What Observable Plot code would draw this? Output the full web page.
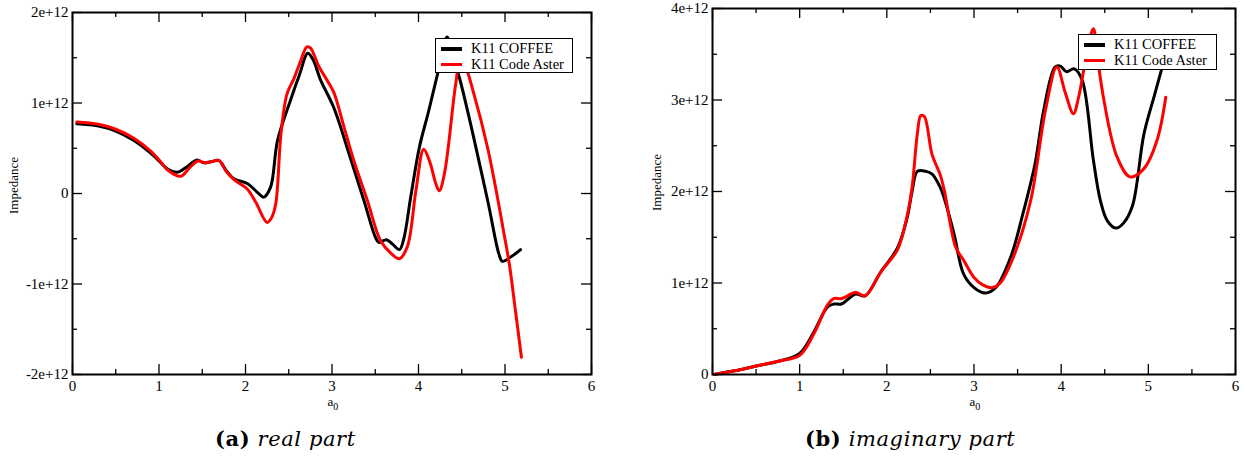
<!DOCTYPE html>
<html>
<head>
<meta charset="utf-8">
<script src="https://cdn.jsdelivr.net/npm/d3@7"></script>
<script src="https://cdn.jsdelivr.net/npm/@observablehq/plot@0.6"></script>
<style>
  body { margin: 0; background: #fff; }
  #root { position: relative; width: 1245px; height: 458px; background: #fff; overflow: hidden; font-family: "Liberation Serif", serif; }
  #root > svg, #root > div { position: absolute; }
  .legend { background: #fff; border: 1px solid #000; font-size: 14.5px; line-height: 15.5px; padding: 2px 4px 2px 5px; box-sizing: border-box; }
  .legend .row { display: flex; align-items: center; white-space: nowrap; }
  .legend .sw { display: inline-block; width: 21px; height: 3.5px; margin-right: 9px; }
  .ylab { font-size: 13px; transform: rotate(-90deg); transform-origin: center; white-space: nowrap; line-height: 13px; }
  .xlab { font-size: 13px; line-height: 13px; }
  .xlab sub { font-size: 10px; vertical-align: -4px; }
  .cap { font-family: "DejaVu Serif", serif; font-size: 21px; letter-spacing: 0.6px; white-space: nowrap; }
  .cap b { font-weight: bold; }
  .cap i { font-style: italic; }
</style>
</head>
<body>
<div id="root"></div>
<script>
// ---------- data ----------
const seriesNames = ["K11 COFFEE", "K11 Code Aster"];
const seriesColors = ["black", "red"];

const xTicks = [0, 1, 2, 3, 4, 5, 6];
const xMinor = [0.5, 1.5, 2.5, 3.5, 4.5, 5.5];

const yTicksReal = [-2e12, -1e12, 0, 1e12, 2e12];
const yLabelsReal = ["-2e+12", "-1e+12", "0", "1e+12", "2e+12"];
const yMinorReal = [-1.5e12, -0.5e12, 0.5e12, 1.5e12];

const yTicksImag = [0, 1e12, 2e12, 3e12, 4e12];
const yLabelsImag = ["0", "1e+12", "2e+12", "3e+12", "4e+12"];
const yMinorImag = [0.5e12, 1.5e12, 2.5e12, 3.5e12];

// real part, K11 COFFEE (values in units of 1e12)
const coffeeRealA0 = [0.05,0.3,0.5,0.71,0.9,1.02,1.1,1.21,1.3,1.44,1.51,1.6,1.69,1.78,1.87,2.02,2.14,2.21,2.29,2.37,2.52,2.62,2.72,2.78,2.87,3.02,3.21,3.37,3.5,3.54,3.63,3.7,3.78,3.83,3.91,4.01,4.12,4.22,4.33,4.38,4.47,4.8,4.93,4.97,5.07,5.18];
const coffeeRealZ  = [0.77,0.745,0.69,0.585,0.45,0.34,0.27,0.235,0.28,0.37,0.34,0.35,0.365,0.25,0.16,0.11,0.01,-0.04,0.07,0.585,1.03,1.3,1.55,1.48,1.25,0.95,0.4,-0.08,-0.48,-0.54,-0.51,-0.56,-0.62,-0.5,-0.04,0.51,0.92,1.32,1.73,1.55,1.29,-0.08,-0.67,-0.75,-0.7,-0.62];

// real part, K11 Code Aster
const asterRealA0 = [0.05,0.3,0.5,0.71,0.9,1.02,1.1,1.25,1.35,1.45,1.53,1.6,1.69,1.78,1.87,2.02,2.12,2.25,2.3,2.35,2.41,2.48,2.56,2.62,2.71,2.75,2.85,2.95,3.02,3.14,3.25,3.41,3.56,3.68,3.78,3.87,3.97,4.06,4.13,4.2,4.24,4.3,4.43,4.48,4.54,4.64,4.8,4.92,4.98,5.05,5.12,5.19];
const asterRealZ  = [0.79,0.765,0.71,0.61,0.47,0.35,0.26,0.19,0.28,0.36,0.34,0.35,0.365,0.24,0.15,0.05,-0.1,-0.32,-0.27,-0.11,0.66,1.1,1.27,1.42,1.62,1.61,1.4,1.24,1.12,0.73,0.37,-0.08,-0.52,-0.66,-0.72,-0.59,0.03,0.49,0.35,0.11,0.03,0.22,1.21,1.45,1.4,1.1,0.5,-0.08,-0.4,-0.78,-1.29,-1.81];

// imaginary part, K11 COFFEE
const coffeeImagA0 = [0.02,0.25,0.49,0.78,1.0,1.16,1.32,1.39,1.48,1.55,1.64,1.75,1.93,2.12,2.23,2.29,2.35,2.45,2.52,2.61,2.65,2.77,2.88,3.0,3.13,3.25,3.42,3.57,3.7,3.8,3.93,3.99,4.06,4.15,4.24,4.37,4.45,4.53,4.63,4.72,4.82,4.95,5.07,5.2];
const coffeeImagZ  = [0.0,0.04,0.09,0.15,0.23,0.46,0.74,0.77,0.77,0.82,0.88,0.86,1.12,1.38,1.7,2.0,2.22,2.22,2.19,2.05,1.95,1.54,1.1,0.95,0.89,0.95,1.28,1.79,2.3,2.89,3.36,3.37,3.31,3.34,3.22,2.34,1.9,1.68,1.6,1.66,1.85,2.63,3.05,3.5];

// imaginary part, K11 Code Aster
const asterImagA0 = [0.02,0.25,0.49,0.78,1.0,1.16,1.32,1.39,1.48,1.55,1.64,1.75,1.93,2.12,2.23,2.29,2.35,2.39,2.43,2.52,2.61,2.66,2.79,2.88,3.0,3.1,3.21,3.3,3.45,3.65,3.82,3.95,4.05,4.14,4.2,4.3,4.37,4.41,4.49,4.64,4.79,4.95,5.1,5.2];
const asterImagZ  = [0.0,0.04,0.09,0.15,0.21,0.44,0.76,0.83,0.83,0.86,0.9,0.86,1.12,1.36,1.72,2.05,2.63,2.83,2.82,2.4,2.19,2.01,1.39,1.25,1.06,0.98,0.95,1.0,1.28,1.9,2.89,3.36,3.07,2.85,3.03,3.54,3.78,3.51,3.0,2.38,2.16,2.25,2.56,3.03];

const SCALE = 1e12;
const zip = (xs, ys) => xs.map((x, i) => ({a0: x, z: ys[i] * SCALE}));

// ---------- drawing ----------
const root = document.getElementById("root");

function panel({left, width, height, mL, mR, mT, mB, yDomain, yTicks, yLabels, yMinor, series}) {
  const innerW = width - mL - mR;
  const innerH = height - mT - mB;
  const MAJ = 10, MIN = 5;
  const svg = Plot.plot({
    width, height,
    marginLeft: mL, marginRight: mR, marginTop: mT, marginBottom: mB,
    style: {fontFamily: "Liberation Serif, serif", fontSize: "15px", color: "black", background: "transparent", overflow: "visible"},
    x: {domain: [0, 6], ticks: xTicks, tickFormat: d => String(d), tickSize: 0, tickPadding: 6, label: null},
    y: {domain: yDomain, ticks: yTicks, tickFormat: d => yLabels[yTicks.indexOf(d)], tickSize: 0, tickPadding: 4, label: null},
    marks: [
      // inward ticks, bottom & top
      Plot.tickX(xTicks, {x: d => d, insetTop: innerH - MAJ, stroke: "black", strokeWidth: 1.3}),
      Plot.tickX(xMinor, {x: d => d, insetTop: innerH - MIN, stroke: "black", strokeWidth: 1.3}),
      Plot.tickX(xTicks, {x: d => d, insetBottom: innerH - MAJ, stroke: "black", strokeWidth: 1.3}),
      Plot.tickX(xMinor, {x: d => d, insetBottom: innerH - MIN, stroke: "black", strokeWidth: 1.3}),
      // inward ticks, left & right
      Plot.tickY(yTicks, {y: d => d, insetRight: innerW - MAJ, stroke: "black", strokeWidth: 1.3}),
      Plot.tickY(yMinor, {y: d => d, insetRight: innerW - MIN, stroke: "black", strokeWidth: 1.3}),
      Plot.tickY(yTicks, {y: d => d, insetLeft: innerW - MAJ, stroke: "black", strokeWidth: 1.3}),
      Plot.tickY(yMinor, {y: d => d, insetLeft: innerW - MIN, stroke: "black", strokeWidth: 1.3}),
      ...series.map((s, i) => Plot.line(s, {x: "a0", y: "z", stroke: seriesColors[i], strokeWidth: 3, curve: "catmull-rom", strokeLinejoin: "round"})),
      Plot.frame({stroke: "black", strokeWidth: 2})
    ]
  });
  svg.style.left = left + "px";
  svg.style.top = "0px";
  root.appendChild(svg);
}

panel({
  left: 0, width: 600, height: 400, mL: 72, mR: 9, mT: 12, mB: 26,
  yDomain: [-2e12, 2e12], yTicks: yTicksReal, yLabels: yLabelsReal, yMinor: yMinorReal,
  series: [zip(coffeeRealA0, coffeeRealZ), zip(asterRealA0, asterRealZ)]
});
panel({
  left: 630, width: 615, height: 400, mL: 82, mR: 10, mT: 8, mB: 26,
  yDomain: [0, 4e12], yTicks: yTicksImag, yLabels: yLabelsImag, yMinor: yMinorImag,
  series: [zip(coffeeImagA0, coffeeImagZ), zip(asterImagA0, asterImagZ)]
});

function addLegend(left, top, w, h) {
  const d = document.createElement("div");
  d.className = "legend";
  d.style.left = left + "px"; d.style.top = top + "px";
  d.style.width = w + "px"; d.style.height = h + "px";
  seriesNames.forEach((n, i) => {
    const r = document.createElement("div");
    r.className = "row";
    r.innerHTML = `<span class="sw" style="background:${seriesColors[i]}"></span><span>${n}</span>`;
    d.appendChild(r);
  });
  root.appendChild(d);
}
addLegend(435, 38, 138, 35);
addLegend(1078, 34, 139, 36);

function addText(cls, html, left, top) {
  const d = document.createElement("div");
  d.className = cls;
  d.innerHTML = html;
  d.style.left = left + "px"; d.style.top = top + "px";
  root.appendChild(d);
  return d;
}
const y1 = addText("ylab", "Impedance", 0, 0);
y1.style.left = (13 - y1.offsetWidth / 2) + "px";
y1.style.top = (185 - y1.offsetHeight / 2) + "px";
const y2 = addText("ylab", "Impedance", 0, 0);
y2.style.left = (656 - y2.offsetWidth / 2) + "px";
y2.style.top = (182 - y2.offsetHeight / 2) + "px";

const xl1 = addText("xlab", "a<sub>0</sub>", 0, 395);
xl1.style.left = (333 - xl1.offsetWidth / 2) + "px";
const xl2 = addText("xlab", "a<sub>0</sub>", 0, 395);
xl2.style.left = (975 - xl2.offsetWidth / 2) + "px";

const c1 = addText("cap", "<b>(a)</b> <i>real part</i>", 0, 0);
c1.style.left = "215px"; c1.style.top = (438 - c1.offsetHeight / 2) + "px";
const c2 = addText("cap", "<b>(b)</b> <i>imaginary part</i>", 0, 0);
c2.style.left = "805px"; c2.style.top = (438 - c2.offsetHeight / 2) + "px";
</script>
</body>
</html>
